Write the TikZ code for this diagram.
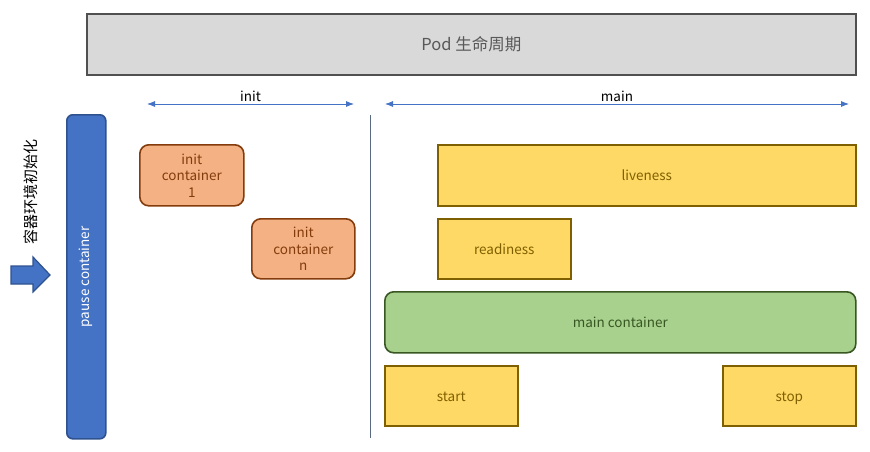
\documentclass[tikz,border=0pt]{standalone}
\usepackage{fontspec}
\setmainfont{Noto Sans CJK SC}
\usetikzlibrary{arrows.meta}
\definecolor{podfill}{HTML}{D9D9D9}
\definecolor{podline}{HTML}{505050}
\definecolor{podtext}{HTML}{595959}
\definecolor{bluef}{HTML}{4472C4}
\definecolor{blued}{HTML}{2F528F}
\definecolor{orf}{HTML}{F4B183}
\definecolor{ord}{HTML}{843C0C}
\definecolor{yef}{HTML}{FFD966}
\definecolor{yed}{HTML}{7F6000}
\definecolor{grf}{HTML}{A9D18E}
\definecolor{grd}{HTML}{385723}
\definecolor{vline}{HTML}{5A6A80}
\tikzset{
  box/.style={anchor=north west, inner sep=0pt, line width=1.6pt, font=\fontsize{13.5}{16.5}\selectfont, align=center},
  initbox/.style={box, fill=orf, draw=ord, text=ord, rounded corners=9pt},
  oneline/.style={text height=11pt, text depth=0pt},
  yebox/.style={box, oneline, fill=yef, draw=yed, text=yed},
  span/.style={{Latex[length=8pt,width=6pt]}-{Latex[length=8pt,width=6pt]}, draw=bluef, line width=0.8pt},
  lbl/.style={font=\fontsize{13.5}{16.5}\selectfont, text=black}
}
\begin{document}
\begin{tikzpicture}[x=1pt,y=-1pt]
\useasboundingbox[fill=white] (0,0) rectangle (870,452);
% Pod lifecycle
\node[box, fill=podfill, draw=podline, text=podtext, minimum width=769pt, minimum height=61pt, font=\fontsize{16.5}{19}\selectfont] (pod) at (86,13) {Pod 生命周期};
% span arrows
\coordinate (i1) at (147,104); \coordinate (i2) at (354,104);
\coordinate (m1) at (385,104); \coordinate (m2) at (849,104);
\draw[span] (i1) -- (i2) node[midway, above=-1pt, lbl] (initl) {init};
\draw[span] (m1) -- (m2) node[midway, above=-1pt, lbl] (mainl) {main};
% vertical divider
\coordinate (v1) at (370,115); \coordinate (v2) at (370,438);
\draw[vline, line width=0.8pt] (v1) -- (v2);
% pause container
\node[box, fill=bluef, draw=blued, rounded corners=6pt, minimum width=39pt, minimum height=324pt] (pause) at (66,114) {};
\node[rotate=90, text=white, font=\fontsize{13.5}{16.5}\selectfont] (pauset) at (pause.center) {pause container};
% Chinese label
\node[rotate=90, font=\fontsize{15}{18}\selectfont, text=black] (envl) at (31,192) {容器环境初始化};
% block arrow
\draw[fill=bluef, draw=blued, line width=1.2pt, line join=miter]
  (11,266) -- (33,266) -- (33,257) -- (50,275) -- (33,292) -- (33,284) -- (11,284) -- cycle;
% init containers
\node[initbox, minimum width=104pt, minimum height=61pt] (ic1) at (139,144) {init\\container\\1};
\node[initbox, minimum width=103pt, minimum height=60pt] (icn) at (251,218) {init\\container\\n};
% probes
\node[yebox, minimum width=418pt, minimum height=61pt] (live) at (437,144) {liveness};
\node[yebox, minimum width=133pt, minimum height=60pt] (ready) at (437,218) {readiness};
% main container
\node[box, oneline, fill=grf, draw=grd, text=grd, rounded corners=9pt, minimum width=471pt, minimum height=61pt] (mainc) at (384,291) {main container};
% hooks
\node[yebox, minimum width=133pt, minimum height=60pt] (start) at (384,365) {start};
\node[yebox, minimum width=133pt, minimum height=60pt] (stop) at (722,365) {stop};
\end{tikzpicture}
\end{document}
